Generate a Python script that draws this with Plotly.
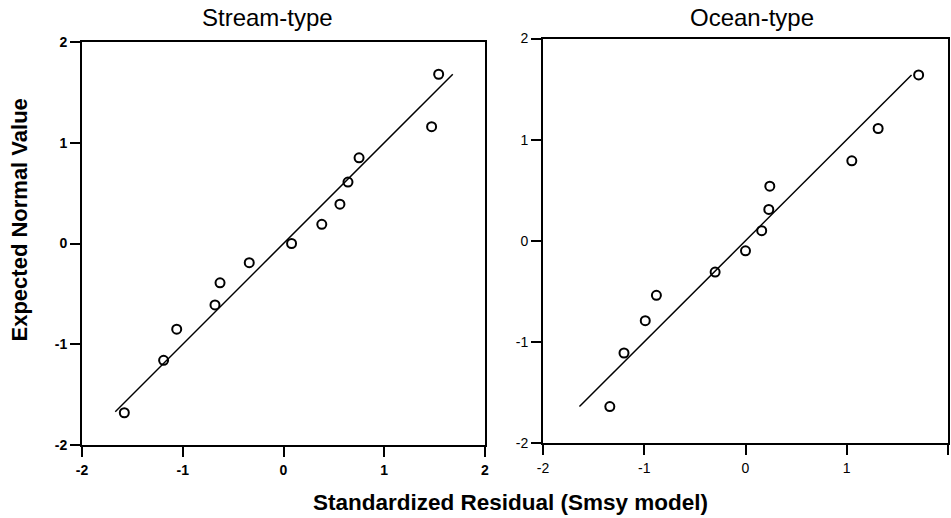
import plotly.graph_objects as go

# ---- data ----
stream_resid = [1.54, 1.47, 0.75, 0.64, 0.56, 0.38, 0.08, -0.34, -0.63, -0.68, -1.06, -1.19, -1.58]
stream_expected = [1.68, 1.16, 0.85, 0.61, 0.39, 0.19, 0.0, -0.19, -0.39, -0.61, -0.85, -1.16, -1.68]
stream_line = [-1.67, 1.68]

ocean_resid = [1.71, 1.31, 1.05, 0.24, 0.23, 0.16, 0.0, -0.30, -0.88, -0.99, -1.20, -1.34]
ocean_expected = [1.64, 1.11, 0.79, 0.54, 0.31, 0.10, -0.10, -0.31, -0.54, -0.79, -1.11, -1.64]
ocean_line = [-1.64, 1.64]

tick_vals = [-2, -1, 0, 1, 2]
tick_text = ["-2", "-1", "0", "1", "2"]
panel_titles = ["Stream-type", "Ocean-type"]
x_title = "Standardized Residual (Smsy model)"
y_title = "Expected Normal Value"

W, H = 951, 518
FONT = "Arial, Liberation Sans, sans-serif"

fig = go.Figure()

marker = dict(symbol="circle-open", size=9, color="black", line=dict(width=2, color="black"))

fig.add_trace(go.Scatter(x=stream_line, y=stream_line, mode="lines",
                         line=dict(color="black", width=1.5), xaxis="x", yaxis="y", showlegend=False))
fig.add_trace(go.Scatter(x=stream_resid, y=stream_expected, mode="markers",
                         marker=marker, xaxis="x", yaxis="y", showlegend=False))
fig.add_trace(go.Scatter(x=ocean_line, y=ocean_line, mode="lines",
                         line=dict(color="black", width=1.5), xaxis="x2", yaxis="y2", showlegend=False))
fig.add_trace(go.Scatter(x=ocean_resid, y=ocean_expected, mode="markers",
                         marker=marker, xaxis="x2", yaxis="y2", showlegend=False))


def ax(domain, anchor, bold, standoff):
    return dict(
        domain=domain, anchor=anchor, range=[-2, 2], tickvals=tick_vals, ticktext=tick_text,
        showgrid=False, zeroline=False, showline=True, linecolor="black", linewidth=2,
        mirror=True, ticks="outside", ticklen=10, tickwidth=2, tickcolor="black",
        tickfont=dict(family=FONT, size=14, color="black", weight=700 if bold else 400),
        ticklabelstandoff=standoff,
        automargin=False, fixedrange=True,
    )


lx = [82 / W, 485 / W]
ly = [1 - 445 / H, 1 - 42 / H]
rx = [543 / W, 948 / W]
ry = [1 - 443 / H, 1 - 38.5 / H]

fig.update_layout(
    width=W, height=H,
    margin=dict(l=0, r=0, t=0, b=0),
    paper_bgcolor="white", plot_bgcolor="white",
    font=dict(family=FONT, color="black"),
    xaxis=ax(lx, "y", True, 1),
    yaxis=ax(ly, "x", True, 0),
    xaxis2=ax(rx, "y2", False, 1),
    yaxis2=ax(ry, "x2", False, 0),
    annotations=[
        dict(text=panel_titles[0], x=267.5 / W, y=1 - 17 / H, xref="paper", yref="paper",
             showarrow=False, xanchor="center", yanchor="middle",
             font=dict(family=FONT, size=24, color="black")),
        dict(text=panel_titles[1], x=751.5 / W, y=1 - 17 / H, xref="paper", yref="paper",
             showarrow=False, xanchor="center", yanchor="middle",
             font=dict(family=FONT, size=24, color="black")),
        dict(text="<b>" + x_title + "</b>", x=510 / W, y=1 - 502 / H, xref="paper", yref="paper",
             showarrow=False, xanchor="center", yanchor="middle",
             font=dict(family=FONT, size=22.5, color="black")),
        dict(text="<b>" + y_title + "</b>", x=19 / W, y=1 - 220.5 / H, xref="paper", yref="paper",
             showarrow=False, xanchor="center", yanchor="middle", textangle=-90,
             font=dict(family=FONT, size=22, color="black")),
    ],
)

fig.write_html("out.html")
